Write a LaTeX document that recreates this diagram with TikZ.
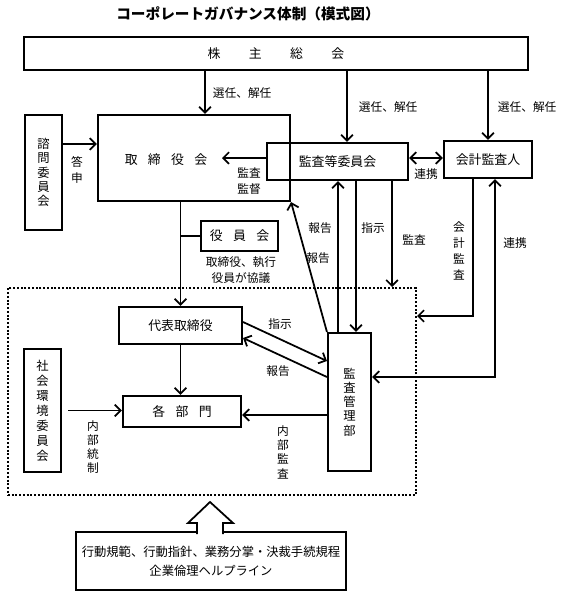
\documentclass[tikz,border=0pt]{standalone}
\usepackage{fontspec}
\setmainfont{Noto Sans CJK JP}
\usetikzlibrary{arrows.meta}
\newcommand{\jsp}{\hspace{0.8em}}
\tikzset{
  box/.style={draw,line width=1.8pt,inner sep=0pt,font=\fontsize{11}{14}\selectfont},
  vbox/.style={box,align=center,font=\fontsize{10.5}{12.2}\selectfont},
  lbl/.style={inner sep=0pt,font=\fontsize{10}{13}\selectfont,align=center},
}

\begin{document}
\begin{tikzpicture}[x=0.03cm,y=-0.03cm,>={Straight Barb[length=5pt,width=10pt,line width=1.5pt]},line width=1.5pt]
\useasboundingbox (0,0) rectangle (567,613);

\node[font=\fontsize{12.5}{14}\selectfont\bfseries] (title) at (248,14) {コーポレートガバナンス体制（模式図）};

% dotted frame round the executive side
\node[draw,line width=1.7pt,dash pattern=on 1.7pt off 1.5pt,inner sep=0pt,minimum width=12.24cm,minimum height=6.21cm] (frame) at (212,391.5) {};

\node[box,minimum width=15.12cm,minimum height=0.99cm] (kabu) at (276,53.5) {株\hspace{2.2em}主\hspace{2.2em}総\hspace{2.2em}会};
\node[box,minimum width=5.76cm,minimum height=2.58cm] (board) at (194,158) {};
\node[font=\fontsize{11}{14}\selectfont] (boardtxt) at (166,160) {取\jsp{}締\jsp{}役\jsp{}会};
\node[lbl] (kansatoku) at (249,181) {監査\\監督};
\node[vbox,minimum width=1.11cm,minimum height=3.45cm] (advisory) at (43.5,172.5) {諮\\問\\委\\員\\会};
\node[box,minimum width=4.23cm,minimum height=1.11cm] (auditcom) at (337.5,161.5) {監査等委員会};
\node[box,minimum width=2.64cm,minimum height=1.11cm] (auditor) at (488,159.5) {会計監査人};
\node[box,minimum width=2.31cm,minimum height=0.9cm] (execmeet) at (239.5,236) {役\jsp{}員\jsp{}会};
\node[box,minimum width=3.69cm,minimum height=1.11cm] (president) at (180.5,325.5) {代表取締役};
\node[box,minimum width=3.54cm,minimum height=0.93cm] (depts) at (182,411.5) {各\jsp{}部\jsp{}門};
\node[vbox,font=\fontsize{10.5}{12.8}\selectfont,minimum width=1.11cm,minimum height=3.69cm] (socenv) at (42.5,410.5) {社\\会\\環\\境\\委\\員\\会};
\node[vbox,minimum width=1.29cm,minimum height=4.14cm] (auditdept) at (349.5,402) {監\\査\\管\\理\\部};
\node[box,font=\fontsize{10.5}{16}\selectfont,align=center,minimum width=8.1cm,minimum height=1.74cm] (norms) at (211,561) {行動規範、行動指針、業務分掌・決裁手続規程\\企業倫理ヘルプライン};

% shareholders
\draw[->] (kabu.south -| 205,0) -- (board.north -| 205,0);
\node[lbl,anchor=west] (senin1) at (212,93) {選任、解任};
\draw[->] (kabu.south -| 347,0) -- (auditcom.north -| 347,0);
\node[lbl,anchor=west] (senin2) at (358,107) {選任、解任};
\draw[->] (kabu.south -| auditor.north) -- (auditor.north);
\node[lbl,anchor=west] (senin3) at (497,107) {選任、解任};

\draw[->] (advisory.east |- 0,144) -- (board.west |- 0,144);
\node[lbl] (toshin) at (77,170) {答\\申};

\coordinate (kansain) at (222,158);
\draw[->] (auditcom.west |- kansain) -- (kansain);
\draw[<->] (auditcom.east |- 0,158) -- (auditor.west |- 0,158);
\node[lbl] (renkei1) at (426,174) {連携};

\draw[->] (board.south -| president.north) -- (president.north);
\draw (president.north |- execmeet.west) -- (execmeet.west);
\node[lbl,font=\fontsize{10}{13.6}\selectfont] (kyogi) at (241,270) {取締役、執行\\役員が協議};

\draw[->] (president.south) -- (president.south |- depts.north);
\draw[->,shorten <=0.18cm] (socenv.east) -- (socenv.east -| depts.west);
\node[lbl,font=\fontsize{10}{12}\selectfont] (naibutosei) at (93,447) {内\\部\\統\\制};

% audit department
\draw[->] (president.east |- 0,322) -- (auditdept.west |- 0,361);
\node[lbl] (shiji1) at (280,324) {指示};
\draw[->] (auditdept.west |- 0,377) -- (president.east |- 0,338);
\node[lbl] (hokoku1) at (278,371) {報告};
\draw[->] (auditdept.west |- 0,415) -- (depts.east |- 0,415);
\node[lbl,font=\fontsize{10}{12.2}\selectfont] (naibukansa) at (283,452) {内\\部\\監\\査};

\draw[->] (auditdept.north -| 338,0) -- (auditcom.south -| 338,0);
\draw[->] (auditcom.south -| 356,0) -- (auditdept.north -| 356,0);
\draw[->] (auditdept.north west) -- (board.south east);
\node[lbl] (hokoku2) at (320,228) {報告};
\node[lbl] (hokoku3) at (318,258) {報告};
\node[lbl] (shiji2) at (373,228) {指示};
\draw[->] (auditcom.south -| 392,0) -- (frame.north -| 392,0);
\node[lbl] (kansa) at (414,240) {監査};

% accounting auditor
\draw[->] (auditor.south -| 473,0) |- (frame.east |- 0,316);
\node[lbl,font=\fontsize{10}{13.6}\selectfont] (kaikei) at (459,251) {会\\計\\監\\査};
\draw[<->] (auditor.south -| 495,0) |- (auditdept.east |- 0,377);
\node[lbl] (renkei2) at (515,243) {連携};

% block arrow up into the frame
\draw[fill=white,line width=1.5pt] (197,534) -- (197,523) -- (188,523) -- (210,502) -- (233,523) -- (223,523) -- (223,534);

\end{tikzpicture}
\end{document}
